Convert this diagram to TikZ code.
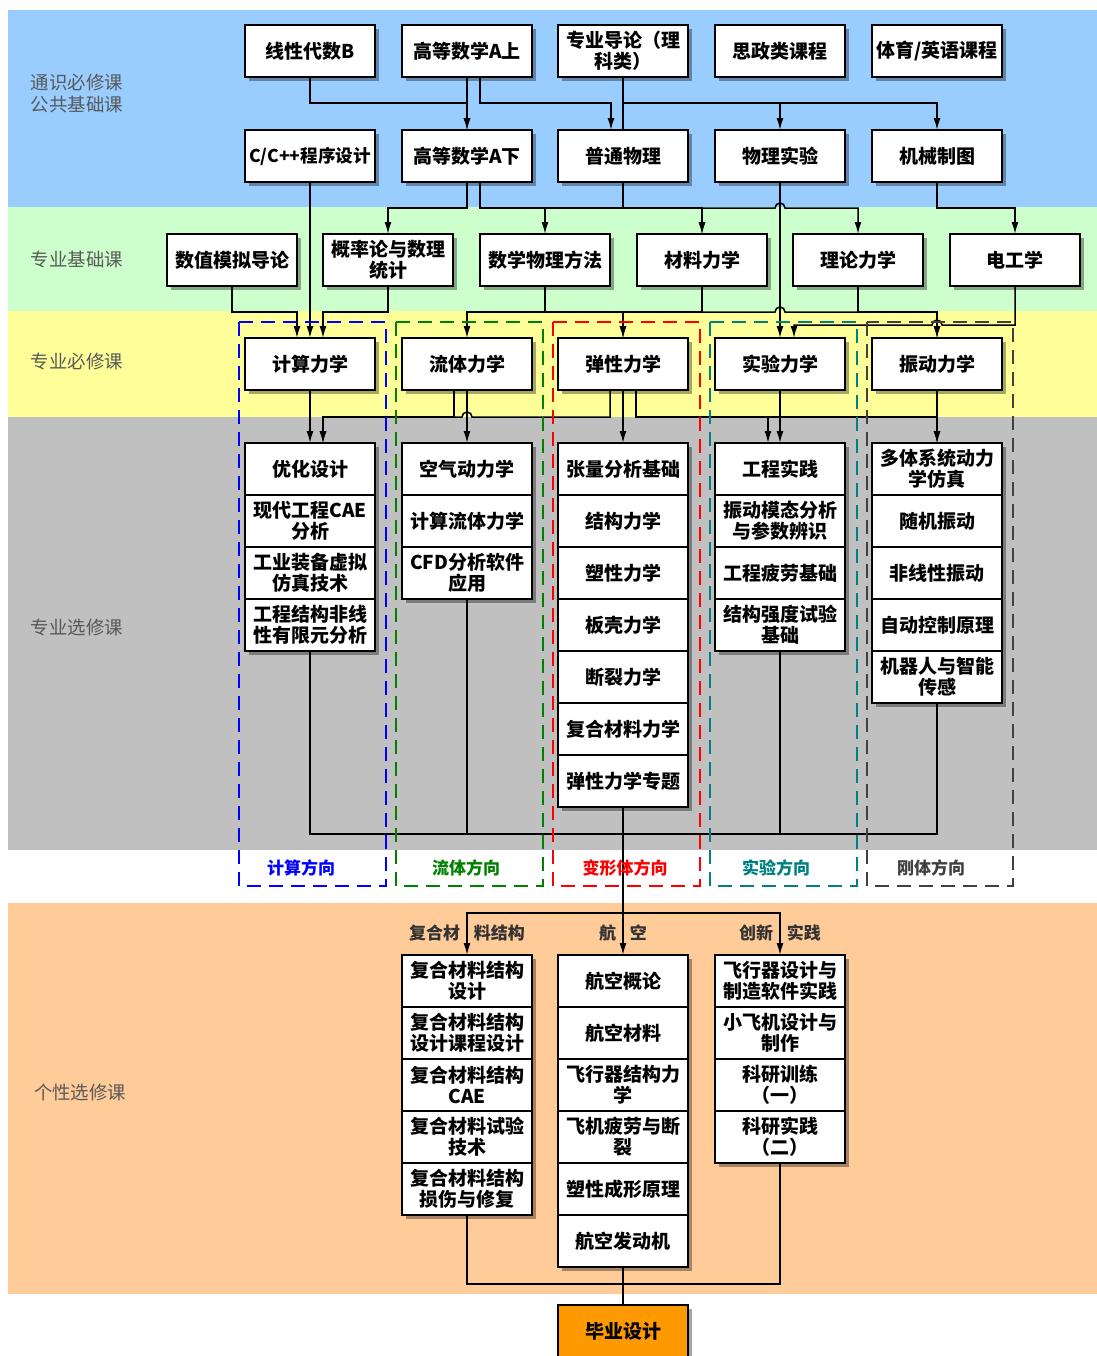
\documentclass[tikz,border=0pt]{standalone}
\usepackage{fontspec}
\setmainfont{Noto Sans CJK SC}
\usetikzlibrary{positioning, calc, shadows, arrows.meta}

\definecolor{bandblue}{HTML}{99CCFF}
\definecolor{bandgreen}{HTML}{CCFFCC}
\definecolor{bandyellow}{HTML}{FFFF99}
\definecolor{bandgray}{HTML}{C0C0C0}
\definecolor{bandorange}{HTML}{FFCC99}
\definecolor{finalorange}{HTML}{FF9900}
\definecolor{dirblue}{RGB}{0,0,255}
\definecolor{dirgreen}{RGB}{0,128,0}
\definecolor{dirred}{RGB}{255,0,0}
\definecolor{dirteal}{RGB}{0,128,128}
\definecolor{dirgray}{RGB}{64,64,64}

\tikzset{
    course/.style={draw=black, line width=0.8pt, fill=white, outer sep=0pt,
        minimum width=65pt, minimum height=26pt, inner sep=1pt, align=center,
        font=\bfseries\fontsize{9.5}{10.5}\selectfont,
        drop shadow={shadow xshift=2pt, shadow yshift=-2pt, opacity=0.35, fill=black}},
    final/.style={course, fill=finalorange},
    bandlabel/.style={align=center, text=black!65, font=\fontsize{9.2}{11}\selectfont},
    dirbox/.style={line width=1pt, dash pattern=on 7pt off 4pt},
    dirtext/.style={font=\bfseries\fontsize{8.5}{10}\selectfont},
    grouplabel/.style={text=black!80, font=\bfseries\fontsize{8.5}{10}\selectfont}
}

\begin{document}
\begin{tikzpicture}[>={Latex[length=6pt, width=3.5pt]}, node distance=0pt, x=0.5pt, y=-0.5pt, line width=0.75pt]
    \useasboundingbox (0,0) rectangle (1097,1356);

    % bands
    \fill[bandblue] (8,10) rectangle (1097,207);
    \fill[bandgreen] (8,207) rectangle (1097,311);
    \fill[bandyellow] (8,311) rectangle (1097,417);
    \fill[bandgray] (8,417) rectangle (1097,850);
    \fill[bandorange] (8,903) rectangle (1097,1294);

    \node[bandlabel] (lbl-ty) at (77,94) {通识必修课\\公共基础课};
    \node[bandlabel] (lbl-jc) at (77,259) {专业基础课};
    \node[bandlabel] (lbl-bx) at (77,361) {专业必修课};
    \node[bandlabel] (lbl-xx) at (77,627) {专业选修课};
    \node[bandlabel] (lbl-gx) at (80,1092) {个性选修课};

    % courses
    \node[course] (xd) at (310,51) {线性代数B};
    \node[course] (ga) at (467,51) {高等数学A上};
    \node[course] (zy) at (623,51) {专业导论（理\\科类）};
    \node[course] (sz) at (780,51) {思政类课程};
    \node[course] (ty) at (937,51) {体育/英语课程};

    \node[course, inner xsep=0pt, font=\bfseries\fontsize{8.8}{10.5}\selectfont] (cc) at (310,156) {C/C++程序设计};
    \node[course] (gb) at (467,156) {高等数学A下};
    \node[course] (pw) at (623,156) {普通物理};
    \node[course] (sy) at (780,156) {物理实验};
    \node[course] (jx) at (937,156) {机械制图};

    \node[course] (sm) at (232,260) {数值模拟导论};
    \node[course] (gl) at (388,260) {概率论与数理\\统计};
    \node[course] (sx) at (545,260) {数学物理方法};
    \node[course] (cl) at (702,260) {材料力学};
    \node[course] (ll) at (858,260) {理论力学};
    \node[course] (dg) at (1015,260) {电工学};

    \node[course] (js) at (310,364) {计算力学};
    \node[course] (lt) at (467,364) {流体力学};
    \node[course] (tx) at (623,364) {弹性力学};
    \node[course] (sl) at (780,364) {实验力学};
    \node[course] (zd) at (937,364) {振动力学};

    % electives
    \node[course] (js1) at (310,469) {优化设计};
    \node[course, below=of js1] (js2) {现代工程CAE\\分析};
    \node[course, below=of js2] (js3) {工业装备虚拟\\仿真技术};
    \node[course, below=of js3] (js4) {工程结构非线\\性有限元分析};

    \node[course] (lt1) at (467,469) {空气动力学};
    \node[course, below=of lt1] (lt2) {计算流体力学};
    \node[course, below=of lt2] (lt3) {CFD分析软件\\应用};

    \node[course] (tx1) at (623,469) {张量分析基础};
    \node[course, below=of tx1] (tx2) {结构力学};
    \node[course, below=of tx2] (tx3) {塑性力学};
    \node[course, below=of tx3] (tx4) {板壳力学};
    \node[course, below=of tx4] (tx5) {断裂力学};
    \node[course, below=of tx5] (tx6) {复合材料力学};
    \node[course, below=of tx6] (tx7) {弹性力学专题};

    \node[course] (sl1) at (780,469) {工程实践};
    \node[course, below=of sl1] (sl2) {振动模态分析\\与参数辨识};
    \node[course, below=of sl2] (sl3) {工程疲劳基础};
    \node[course, below=of sl3] (sl4) {结构强度试验\\基础};

    \node[course] (zd1) at (937,469) {多体系统动力\\学仿真};
    \node[course, below=of zd1] (zd2) {随机振动};
    \node[course, below=of zd2] (zd3) {非线性振动};
    \node[course, below=of zd3] (zd4) {自动控制原理};
    \node[course, below=of zd4] (zd5) {机器人与智能\\传感};

    % personal electives
    \node[course] (fh1) at (467,981) {复合材料结构\\设计};
    \node[course, below=of fh1] (fh2) {复合材料结构\\设计课程设计};
    \node[course, below=of fh2] (fh3) {复合材料结构\\CAE};
    \node[course, below=of fh3] (fh4) {复合材料试验\\技术};
    \node[course, below=of fh4] (fh5) {复合材料结构\\损伤与修复};

    \node[course] (hk1) at (623,981) {航空概论};
    \node[course, below=of hk1] (hk2) {航空材料};
    \node[course, below=of hk2] (hk3) {飞行器结构力\\学};
    \node[course, below=of hk3] (hk4) {飞机疲劳与断\\裂};
    \node[course, below=of hk4] (hk5) {塑性成形原理};
    \node[course, below=of hk5] (hk6) {航空发动机};

    \node[course] (cx1) at (780,981) {飞行器设计与\\制造软件实践};
    \node[course, below=of cx1] (cx2) {小飞机设计与\\制作};
    \node[course, below=of cx2] (cx3) {科研训练\\（一）};
    \node[course, below=of cx3] (cx4) {科研实践\\（二）};

    \node[final] (by) at (623,1331) {毕业设计};

    \node[grouplabel] (g-fh) at (467,933) {复合材\hspace{7pt}料结构};
    \node[grouplabel] (g-hk) at (623,933) {航\hspace{7pt}空};
    \node[grouplabel] (g-cx) at (780,933) {创新\hspace{7pt}实践};

    % row 1 -> row 2
    \draw[->] (xd.south) -- ++(0,26) -| (gb.north);
    \draw[->] (ga.south) -- (gb.north);
    \draw[->] ([xshift=6.5pt]ga.south) -- ++(0,26) -| ([xshift=-6pt]pw.north);
    \draw (zy.south) -- (pw.north);
    \draw[->] (zy.south) -- ++(0,26) -| (sy.north);
    \draw[->] (zy.south) -- ++(0,26) -| (jx.north);

    % row 2 -> row 3
    \draw[->] (cc.south) -- (js.north);
    \draw[->] (gb.south) -- ++(0,26) -| (gl.north);
    \draw[->] ([xshift=6.5pt]gb.south) -- ++(0,26) -| (sx.north);
    \draw[->] ([xshift=6.5pt]gb.south) -- ++(0,26) -| (cl.north);
    \draw[->] ([xshift=6.5pt]gb.south) |- ($(sy.south)+(-5,26)$)
        arc[start angle=180, end angle=0, radius=2.5pt] -| (ll.north);
    \draw[->] (pw.south) -- ++(0,26) -| (cl.north);
    \draw[->] (jx.south) -- ++(0,26) -| (dg.north);
    \draw[->] (sy.south) -- (sl.north);

    % row 3 -> row 4
    \draw[->] (sm.south) -- ++(0,26) -| ([xshift=-6.5pt]js.north);
    \draw[->] (gl.south) -- ++(0,26) -| ([xshift=6.5pt]js.north);
    \draw[->] (sx.south) -- ++(0,26) -| (lt.north);
    \draw[->] (sx.south) -- ++(0,26) -| (tx.north);
    \draw[->] (cl.south) -- ++(0,26) -| (tx.north);
    \draw[->] (cl.south) |- ($(sl.north)+(-5,-26)$)
        arc[start angle=180, end angle=0, radius=2.5pt] -| (zd.north);
    \draw[->] (ll.south) -- ++(0,26) -| (zd.north);
    \draw[->] (dg.south) |- ($(zd.north)+(5,-13)$)
        arc[start angle=0, end angle=180, radius=2.5pt] -| ([xshift=7pt]sl.north);

    % row 4 -> electives
    \draw[->] (js.south) -- (js1.north);
    \draw[->] ([xshift=-6.5pt]lt.south) -- ++(0,27) -| ([xshift=6.5pt]js1.north);
    \draw[->] ([xshift=-6.5pt]tx.south) |- ($(lt1.north)+(5,-26)$)
        arc[start angle=0, end angle=180, radius=2.5pt] -| ([xshift=6.5pt]js1.north);
    \draw[->] (lt.south) -- (lt1.north);
    \draw[->] (tx.south) -- (tx1.north);
    \draw[->] ([xshift=6.5pt]tx.south) -- ++(0,27) -| ([xshift=-6pt]sl1.north);
    \draw[->] ([xshift=6.5pt]tx.south) -- ++(0,27) -| (zd1.north);
    \draw[->] (sl.south) -- (sl1.north);
    \draw[->] (zd.south) -- (zd1.north);

    % electives -> personal electives
    \coordinate (merge) at (623,834);
    \coordinate (split) at (623,913);
    \draw (js4.south) |- (merge);
    \draw (lt3.south) |- (merge);
    \draw (sl4.south) |- (merge);
    \draw (zd5.south) |- (merge);
    \draw (tx7.south) -- (split);
    \draw[->] (split) -| (fh1.north);
    \draw[->] (split) -- (hk1.north);
    \draw[->] (split) -| (cx1.north);

    \coordinate (mergeB) at (623,1284);
    \draw (fh5.south) |- (mergeB);
    \draw (cx4.south) |- (mergeB);
    \draw (hk6.south) -- (by.north);

    % directions
    \draw[dirbox, draw=dirblue] (239,322) rectangle (386,886);
    \draw[dirbox, draw=dirgreen] (396,322) rectangle (543,886);
    \draw[dirbox, draw=dirred] (553,322) rectangle (700,886);
    \draw[dirbox, draw=dirteal] (710,322) rectangle (857,886);
    \draw[dirbox, draw=dirgray] (867,322) rectangle (1013,886);

    \node[dirtext, text=dirblue] (d-js) at (301,868) {计算方向};
    \node[dirtext, text=dirgreen] (d-lt) at (466,868) {流体方向};
    \node[dirtext, text=dirred] (d-tx) at (625,868) {变形体方向};
    \node[dirtext, text=dirteal] (d-sl) at (776,868) {实验方向};
    \node[dirtext, text=dirgray] (d-zd) at (931,868) {刚体方向};
\end{tikzpicture}
\end{document}
